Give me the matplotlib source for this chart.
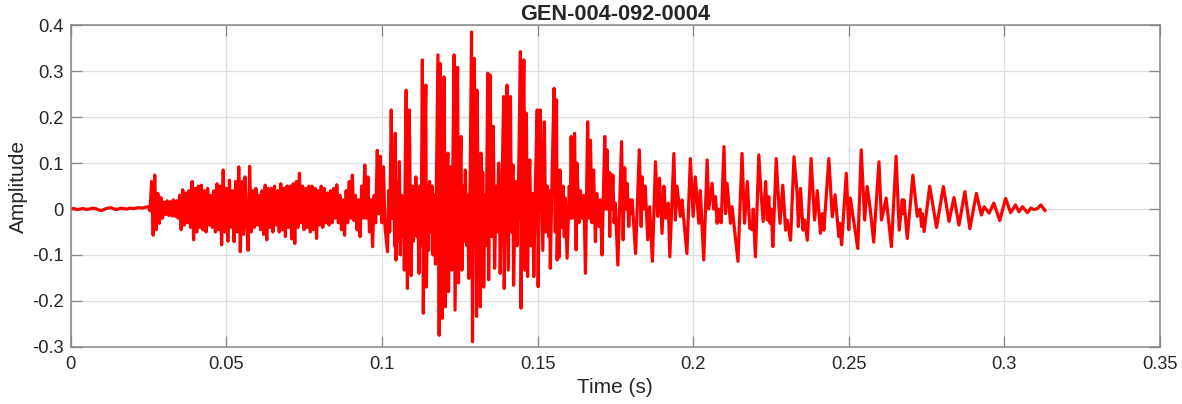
import numpy as np
import matplotlib.pyplot as plt

plt.rcParams['font.family'] = ['Liberation Sans', 'DejaVu Sans']

title = 'GEN-004-092-0004'
x_label = 'Time (s)'
y_label = 'Amplitude'
x_ticks = [0, 0.05, 0.1, 0.15, 0.2, 0.25, 0.3, 0.35]
x_tick_labels = ['0', '0.05', '0.1', '0.15', '0.2', '0.25', '0.3', '0.35']
y_ticks = [-0.3, -0.2, -0.1, 0, 0.1, 0.2, 0.3, 0.4]
y_tick_labels = ['-0.3', '-0.2', '-0.1', '0', '0.1', '0.2', '0.3', '0.4']

# quiet lead-in, sampled every 1 ms
quiet_start, quiet_step = 0.0, 0.001
quiet_amp = [0.0, 0.001, -0.001, 0.0, 0.001, -0.001, 0.0, 0.002, 0.001, -0.002,
             -0.003, 0.0, 0.002, 0.003, 0.0, -0.001, 0.002, 0.001, 0.0, 0.002,
             0.001, 0.002, 0.003, 0.002, 0.004]

# noisy onset, 0.5 ms between read extrema
noise_start, noise_step = 0.025, 0.0005
noise_amp = [0.005, -0.004, 0.06, -0.057, 0.074, -0.045, 0.034, -0.031, 0.025, -0.02,
             0.015, -0.012, 0.018, -0.014, 0.016, -0.015, 0.02, -0.016, 0.018, -0.02,
             0.03, -0.045, 0.042, -0.035, 0.035, -0.03, 0.04, -0.04, 0.06, -0.067,
             0.045, -0.05, 0.05, -0.04, 0.052, -0.045, 0.04, -0.05, 0.045, -0.035,
             0.03, -0.04, 0.04, -0.05, 0.055, -0.045, 0.05, -0.078, 0.085, -0.05,
             0.045, -0.07, 0.063, -0.04, 0.04, -0.071, 0.06, -0.05, 0.092, -0.093,
             0.06, -0.055, 0.07, -0.03, -0.09, 0.093, -0.05, 0.04, -0.04, 0.045,
             -0.035, 0.03, -0.045, 0.04, -0.055, 0.052, -0.067, 0.045, -0.04, 0.045,
             -0.05, 0.05, -0.035, 0.04, -0.05, 0.055, -0.045, 0.045, -0.06, 0.05,
             -0.04, 0.05, -0.065, 0.055, -0.075, 0.06, -0.04, 0.078,
             -0.03, 0.05, -0.045, 0.045, -0.04, 0.05, -0.05, 0.05, -0.045, 0.045,
             -0.064, 0.04, -0.035, 0.05, -0.04, 0.045, -0.03, 0.035, -0.035, 0.04,
             -0.03, 0.045, -0.02, 0.053, -0.03, 0.03, -0.045, 0.02, -0.057, 0.04,
             -0.03, 0.06, -0.02, 0.074, -0.025, 0.03, -0.045, 0.02, -0.06, 0.05,
             -0.02, 0.096, -0.02, 0.07, -0.05, 0.02, -0.082, 0.03, -0.03, 0.128,
             -0.01, 0.115, -0.03, 0.092, -0.04]

# main burst, extrema
burst_t = [0.1018, 0.1022, 0.1025, 0.1030, 0.1034, 0.1037, 0.1041, 0.1043, 0.1045, 0.1049,
           0.1052, 0.1056, 0.1059, 0.1063, 0.1067, 0.1070, 0.1072, 0.1075, 0.1078, 0.1080,
           0.1082, 0.1085, 0.1088, 0.1091, 0.1094, 0.1098, 0.1101, 0.1104, 0.1107, 0.1109,
           0.1112, 0.1115, 0.1119, 0.1122, 0.1126, 0.1130, 0.1133, 0.1137, 0.1141, 0.1143,
           0.1147, 0.1150, 0.1153, 0.1157, 0.1161, 0.1164, 0.1168, 0.1172, 0.1176, 0.1180,
           0.1184, 0.1187, 0.1190, 0.1194, 0.1197, 0.1200, 0.1204, 0.1207, 0.1212, 0.1214,
           0.1218, 0.1220, 0.1225, 0.1228, 0.1232, 0.1235, 0.1239, 0.1243, 0.1246, 0.1250,
           0.1254, 0.1257, 0.1261, 0.1265, 0.1268, 0.1273, 0.1276, 0.1279, 0.1284, 0.1288,
           0.1291, 0.1294, 0.1297, 0.1300, 0.1302, 0.1304, 0.1306, 0.1310, 0.1313, 0.1316,
           0.1318, 0.1322, 0.1324, 0.1327, 0.1331, 0.1335, 0.1340, 0.1343, 0.1348, 0.1352,
           0.1358, 0.1362, 0.1367, 0.1371, 0.1375, 0.1378, 0.1380, 0.1386, 0.1391, 0.1393,
           0.1398, 0.1402, 0.1406, 0.1413, 0.1416, 0.1421, 0.1423, 0.1429, 0.1434, 0.1440,
           0.1445, 0.1447, 0.1451, 0.1456, 0.1460, 0.1464, 0.1468, 0.1472, 0.1475, 0.1479,
           0.1484, 0.1488, 0.1493, 0.1499, 0.1502, 0.1506, 0.1509, 0.1515, 0.1517, 0.1522,
           0.1526, 0.1531, 0.1536, 0.1539, 0.1541, 0.1547, 0.1553, 0.1557, 0.1561, 0.1563,
           0.1567, 0.1569, 0.1572, 0.1577, 0.1582, 0.1586, 0.1589, 0.1595, 0.1602, 0.1605,
           0.1608, 0.1612, 0.1619, 0.1624, 0.1627, 0.1633, 0.1638, 0.1643, 0.1649, 0.1654,
           0.1661, 0.1666, 0.1670, 0.1675, 0.1680, 0.1686, 0.1691, 0.1696, 0.1698, 0.1702,
           0.1707, 0.1716, 0.1720, 0.1723, 0.1726, 0.1730, 0.1732, 0.1734, 0.1738, 0.1742,
           0.1746, 0.1750, 0.1758, 0.1770, 0.1775, 0.1780, 0.1784, 0.1788, 0.1793, 0.1798,
           0.1801, 0.1804, 0.1815, 0.1827, 0.1833, 0.1836, 0.1841, 0.1846, 0.1854, 0.1860,
           0.1869, 0.1879, 0.1886, 0.1892, 0.1900, 0.1906, 0.1912, 0.1920, 0.1925, 0.1938,
           0.1943, 0.1948, 0.1959, 0.1964, 0.1980, 0.1991, 0.2000, 0.2007, 0.2018, 0.2023,
           0.2034, 0.2045, 0.2050, 0.2061, 0.2066, 0.2072, 0.2077, 0.2082, 0.2090, 0.2099,
           0.2104, 0.2109, 0.2120, 0.2125, 0.2144, 0.2157, 0.2165, 0.2174, 0.2182]
burst_amp = [-0.093, 0.04, -0.05, 0.216, -0.02, 0.12, -0.08, 0.165, -0.111, 0.06,
             -0.07, 0.103, -0.10, 0.03, -0.06, 0.02, -0.133, 0.10, 0.259, -0.05,
             -0.173, 0.05, 0.216, 0.02, -0.145, 0.05, -0.07, 0.04, -0.03, 0.07,
             -0.06, 0.03, -0.14, 0.05, -0.08, 0.325, -0.227, 0.10, 0.27, -0.17,
             0.05, -0.09, 0.06, -0.05, 0.05, -0.10, 0.03, -0.12, 0.10, 0.336,
             -0.275, 0.317, 0.05, -0.238, 0.10, 0.288, -0.213, 0.05, 0.122, -0.18,
             0.02, 0.092, -0.133, 0.10, 0.336, -0.22, 0.05, 0.309, -0.161, 0.05,
             0.158, -0.133, 0.05, -0.07, 0.085, -0.08, 0.03, -0.151, 0.10, 0.386,
             -0.289, 0.10, 0.328, 0.0, 0.08, -0.234, 0.259, -0.05, 0.10, -0.213,
             0.122, 0.0, 0.08, -0.17, 0.03, -0.08, 0.296, -0.154, 0.292, -0.06,
             0.18, -0.129, 0.05, -0.05, 0.10, 0.03, -0.14, 0.05, 0.245, -0.173,
             0.10, 0.27, -0.133, 0.245, -0.05, 0.096, -0.166, 0.06, -0.08, 0.10,
             0.343, -0.216, 0.10, 0.325, -0.133, 0.209, -0.147, 0.05, 0.107, -0.08,
             0.034, -0.147, 0.05, 0.216, -0.169, 0.10, 0.216, -0.02, -0.09, 0.19,
             -0.05, 0.05, -0.06, 0.04, -0.129, 0.08, 0.263, -0.05, 0.238, -0.111,
             0.05, -0.105, 0.085, -0.04, 0.05, -0.06, 0.024, -0.107, 0.05, -0.02,
             0.158, -0.02, 0.165, -0.089, 0.10, -0.03, 0.04, -0.02, 0.03, -0.14,
             0.19, -0.02, 0.15, -0.03, 0.085, -0.071, 0.034, -0.02, -0.038, 0.02,
             -0.10, 0.158, 0.0, 0.129, 0.0, 0.08, -0.06, 0.078, 0.0, 0.074,
             -0.03, 0.013, -0.122, 0.147, -0.067, 0.09, 0.0, 0.056, -0.038, 0.02,
             -0.01, 0.02, -0.097, 0.129, -0.038, 0.07, 0.0, 0.05, -0.067, 0.005,
             -0.114, 0.103, -0.016, 0.067, -0.053, 0.05, -0.02, 0.013, -0.104, 0.121,
             -0.024, 0.05, -0.016, 0.02, -0.097, 0.11, -0.016, 0.07, -0.031, 0.04,
             -0.111, 0.107, 0.0, 0.056, 0.0, 0.027, -0.031, 0.0, -0.03, 0.136,
             -0.01, 0.056, -0.031, 0.005, -0.114, 0.121, -0.031, 0.06, -0.042]

# decaying tail, extrema
tail_t = [0.2190, 0.2193, 0.2200, 0.2211, 0.2218, 0.2225, 0.2233, 0.2238, 0.2243, 0.2247,
          0.2251, 0.2256, 0.2267, 0.2273, 0.2279, 0.2288, 0.2297, 0.2302, 0.2313, 0.2324,
          0.2334, 0.2338, 0.2345, 0.2353, 0.2358, 0.2367, 0.2379, 0.2390, 0.2399, 0.2409,
          0.2415, 0.2420, 0.2436, 0.2447, 0.2456, 0.2468, 0.2471, 0.2477, 0.2492, 0.2500,
          0.2505, 0.2529, 0.2540, 0.2551, 0.2559, 0.2569, 0.2580, 0.2597, 0.2605, 0.2613,
          0.2620, 0.2637, 0.2652, 0.2662, 0.2672, 0.2675, 0.2677, 0.2688, 0.2706, 0.2720,
          0.2729, 0.2734, 0.2736, 0.2742, 0.2760, 0.2782, 0.2804, 0.2822, 0.2838, 0.2854,
          0.2873, 0.2889, 0.2910, 0.2926, 0.2935, 0.2951, 0.2966, 0.2985, 0.3004, 0.3020,
          0.3036, 0.3047, 0.3058, 0.3074, 0.3085, 0.3095, 0.3106, 0.3117, 0.3130]
tail_amp = [-0.045, 0.0, -0.104, 0.118, 0.035, -0.027, 0.06, -0.024, 0.027, -0.031,
            0.0, -0.082, 0.11, 0.034, -0.031, 0.052, -0.046, -0.024, -0.068, 0.114,
            0.034, -0.038, 0.045, -0.046, -0.024, -0.068, 0.11, -0.024, 0.04, -0.053,
            -0.01, -0.046, 0.11, -0.017, 0.031, -0.06, -0.031, -0.078, 0.078, -0.045,
            0.024, -0.086, 0.129, -0.024, 0.049, 0.0, -0.072, 0.103, -0.024, 0.0,
            0.024, -0.082, 0.115, -0.046, 0.02, -0.01, 0.02, -0.064, 0.074, -0.016,
            0.0, -0.038, -0.01, -0.049, 0.05, -0.04, 0.049, -0.027, 0.025, -0.035,
            0.038, -0.043, 0.034, -0.013, 0.005, -0.009, 0.013, -0.025, 0.023, -0.008,
            0.009, -0.006, 0.005, -0.008, 0.002, -0.001, 0.001, 0.009, -0.003]

quiet_t = quiet_start + quiet_step * np.arange(len(quiet_amp))
noise_t = noise_start + noise_step * np.arange(len(noise_amp))
t = np.concatenate([quiet_t, noise_t, burst_t, tail_t])
amp = np.concatenate([quiet_amp, noise_amp, burst_amp, tail_amp])

fig = plt.figure(figsize=(11.82, 4.04), dpi=100)
ax = fig.add_axes([0.0598, 0.1418, 0.9216, 0.7951])

ax.plot(t, amp, color='#ff0000', linewidth=2.3)

ax.set_xlim(0, 0.35)
ax.set_ylim(-0.3, 0.4)
ax.set_xticks(x_ticks)
ax.set_xticklabels(x_tick_labels)
ax.set_yticks(y_ticks)
ax.set_yticklabels(y_tick_labels)

ax.grid(True, color='#dedede', linewidth=0.9)
ax.set_axisbelow(True)
for s in ax.spines.values():
    s.set_color('#868686')
    s.set_linewidth(1.1)
ax.tick_params(direction='in', length=7.9, width=0.9, top=True, right=True,
               color='#868686', labelcolor='#262626', labelsize=13.2)
ax.tick_params(axis='x', pad=7)
ax.tick_params(axis='y', pad=5)

ax.set_xlabel(x_label, fontsize=15, color='#262626', labelpad=3)
ax.set_ylabel(y_label, fontsize=15, color='#262626', labelpad=3)
ax.set_title(title, fontsize=15.7, fontweight='bold', color='#262626', pad=4)

fig.savefig('out.png', dpi=100)
